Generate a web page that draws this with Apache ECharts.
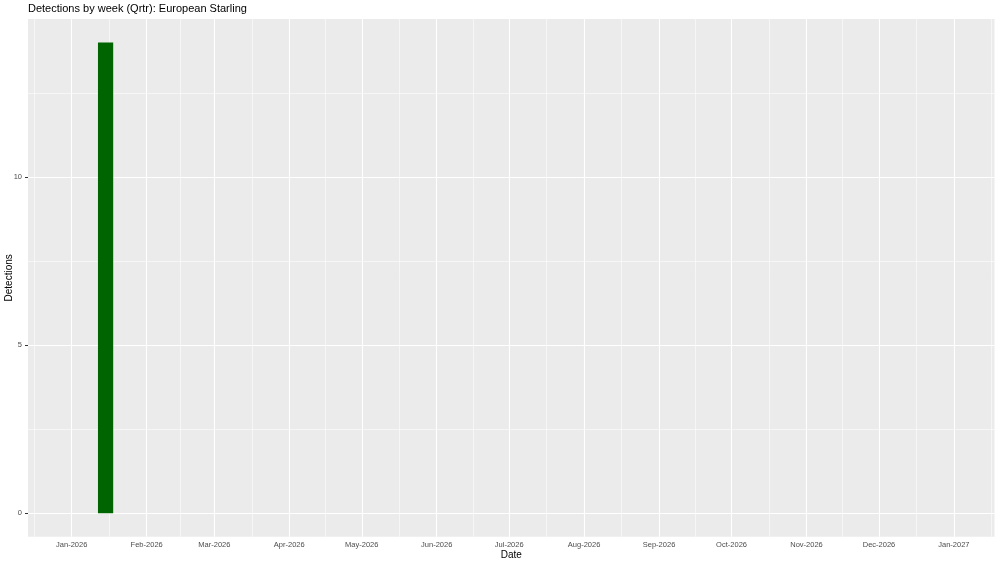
<!DOCTYPE html>
<html>
<head>
<meta charset="utf-8">
<script src="https://cdn.jsdelivr.net/npm/echarts@6/dist/echarts.min.js"></script>
<style>
html,body{margin:0;padding:0;background:#fff;}
#chart{width:1000px;height:563px;}
</style>
</head>
<body>
<div id="chart"></div>
<script>
// ---- data ----
const chartTitle = 'Detections by week (Qrtr): European Starling';
const weekDates = ['2026-01-15'];
const weekCounts = [14];
const monthBreaks = ['2026-01-01','2026-02-01','2026-03-01','2026-04-01','2026-05-01','2026-06-01',
  '2026-07-01','2026-08-01','2026-09-01','2026-10-01','2026-11-01','2026-12-01','2027-01-01'];
const yBreaks = [0, 5, 10];
const yMinorBreaks = [2.5, 7.5, 12.5];
const xTitle = 'Date';
const yTitle = 'Detections';

// ---- helpers ----
const DAY = 86400000;
const ts = s => { const p = s.split('-').map(Number); return Date.UTC(p[0], p[1]-1, p[2]); };
const MONTHS = ['Jan','Feb','Mar','Apr','May','Jun','Jul','Aug','Sep','Oct','Nov','Dec'];
const fmt = v => { const d = new Date(v); return MONTHS[d.getUTCMonth()] + '-' + d.getUTCFullYear(); };

const majorX = monthBreaks.map(ts);
const ext = [ts('2025-12-01')].concat(majorX, [ts('2027-02-01')]);
const minorX = [];
for (let i = 0; i < ext.length - 1; i++) minorX.push((ext[i] + ext[i+1]) / 2);

const xMin = ts('2026-01-01') - 18.1 * DAY;
const xMax = ts('2027-01-01') + 16.8 * DAY;

const bars = weekDates.map((d, i) => [ts(d), weekCounts[i]]);
const halfWidth = 0.9 * 7 / 2 * DAY;

const gridStyleMajor = { color: '#FFFFFF', width: 1.1, type: 'solid' };
const gridStyleMinor = { color: '#FFFFFF', width: 0.55, type: 'solid' };
const FONT = 'Liberation Sans, Arial, sans-serif';

const chart = echarts.init(document.getElementById('chart'), null, { renderer: 'canvas' });
chart.setOption({
  animation: false,
  backgroundColor: '#FFFFFF',
  title: {
    text: chartTitle, left: 23, top: -2,
    textStyle: { fontFamily: FONT, fontSize: 11, fontWeight: 'normal', color: '#000' }
  },
  grid: { left: 28, right: 5.5, top: 19, bottom: 26.3, show: true, backgroundColor: '#EBEBEB', borderWidth: 0,
          containLabel: false, outerBoundsMode: 'none' },
  xAxis: {
    type: 'value', min: xMin, max: xMax, scale: true,
    name: xTitle, nameLocation: 'middle', nameGap: 14, nameMoveOverlap: false,
    nameTextStyle: { fontFamily: FONT, fontSize: 10, color: '#000', verticalAlign: 'top' },
    axisLine: { show: false },
    axisTick: { show: true, length: 3, lineStyle: { color: '#333333', width: 1 }, customValues: majorX },
    axisLabel: { customValues: majorX, formatter: fmt, margin: 4, fontFamily: FONT, fontSize: 7.5, color: '#4D4D4D', hideOverlap: false },
    splitLine: { show: false }
  },
  yAxis: {
    type: 'value', min: -0.7, max: 14.7,
    name: yTitle, nameLocation: 'middle', nameGap: 14, nameRotate: 90, nameMoveOverlap: false,
    nameTextStyle: { fontFamily: FONT, fontSize: 10, color: '#000' },
    axisLine: { show: false },
    axisTick: { show: true, length: 3, lineStyle: { color: '#333333', width: 1 }, customValues: yBreaks },
    axisLabel: { customValues: yBreaks, margin: 6, fontFamily: FONT, fontSize: 7.5, color: '#4D4D4D' },
    splitLine: { show: false }
  },
  series: [
    {
      type: 'line', data: [], silent: true, z: 1,
      markLine: {
        silent: true, symbol: ['none', 'none'], label: { show: false }, animation: false,
        data: [].concat(
          minorX.filter(v => v > xMin && v < xMax).map(v => ({ xAxis: v, lineStyle: gridStyleMinor })),
          yMinorBreaks.map(v => ({ yAxis: v, lineStyle: gridStyleMinor })),
          majorX.map(v => ({ xAxis: v, lineStyle: gridStyleMajor })),
          yBreaks.map(v => ({ yAxis: v, lineStyle: gridStyleMajor }))
        )
      }
    },
    {
      type: 'custom', z: 5,
      data: bars,
      renderItem: function (params, api) {
        const t = api.value(0), v = api.value(1);
        const p0 = api.coord([t - halfWidth, v]);
        const p1 = api.coord([t + halfWidth, 0]);
        return {
          type: 'rect',
          shape: { x: p0[0], y: p0[1], width: p1[0] - p0[0], height: p1[1] - p0[1] },
          style: { fill: '#006400' }
        };
      }
    }
  ]
});
</script>
</body>
</html>
